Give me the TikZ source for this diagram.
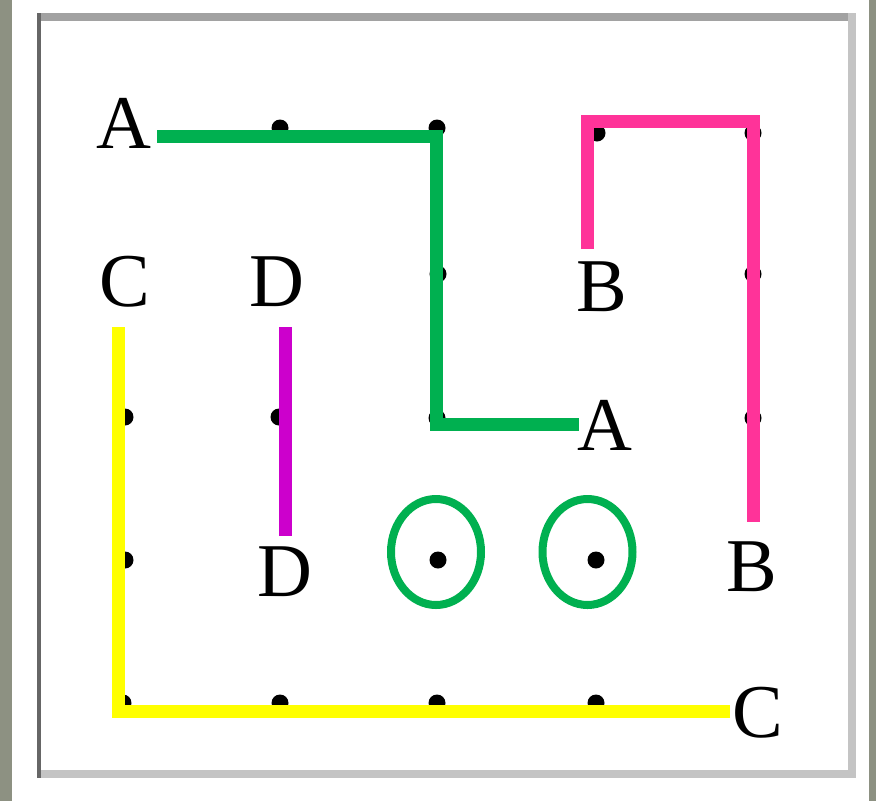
\documentclass[tikz,border=0pt]{standalone}
\usepackage{fontspec}
\setmainfont{Liberation Serif}
\definecolor{bggray}{HTML}{8D9182}
\definecolor{frametop}{HTML}{A2A2A2}
\definecolor{frameleft}{HTML}{666666}
\definecolor{frameright}{HTML}{C4C4C4}
\definecolor{pathgreen}{HTML}{00B050}
\definecolor{pathpink}{HTML}{FF3399}
\definecolor{pathyellow}{HTML}{FFFF00}
\definecolor{pathmagenta}{HTML}{CC00CC}
\tikzset{
  gridpt/.style={circle,fill=black,inner sep=0pt,minimum size=17pt},
  letter/.style={anchor=base,inner sep=0pt,font=\fontsize{76}{76}\selectfont},
  route/.style={line width=13pt,line join=miter,line cap=butt},
  ring/.style={draw=pathgreen,line width=8pt,ellipse,minimum width=90pt,minimum height=106pt,inner sep=0pt}
}
\usetikzlibrary{shapes.geometric}
\begin{document}
\begin{tikzpicture}[x=1pt,y=-1pt]
\useasboundingbox (0,0) rectangle (876,801);
\fill[white] (0,0) rectangle (876,801);
\fill[bggray] (0,0) rectangle (12,801);
\fill[bggray] (869,0) rectangle (876,801);
% frame
\fill[frametop] (37,13) rectangle (856,21);
\fill[frameright] (848,13) rectangle (856,778);
\fill[frameright] (37,770) rectangle (856,778);
\fill[frameleft] (37,13) rectangle (41,778);
% grid dots
\node[gridpt] (d01) at (280,128) {};
\node[gridpt] (d02) at (437,128) {};
\node[gridpt] (d03) at (597,133) {};
\node[gridpt] (d04) at (753,133) {};
\node[gridpt] (d12) at (438,274) {};
\node[gridpt] (d14) at (753,274) {};
\node[gridpt] (d20) at (125,417) {};
\node[gridpt] (d21) at (279,417) {};
\node[gridpt] (d22) at (437,418) {};
\node[gridpt] (d24) at (753,418) {};
\node[gridpt] (d30) at (125,560) {};
\node[gridpt] (d32) at (438,560) {};
\node[gridpt] (d33) at (596,560) {};
\node[gridpt] (d40) at (123,703) {};
\node[gridpt] (d41) at (280,703) {};
\node[gridpt] (d42) at (437,703) {};
\node[gridpt] (d43) at (596,703) {};
% labels
\node[letter] (a1) at (124,148) {A};
\node[letter] (c1) at (125,306) {C};
\node[letter] (dd1) at (277,306) {D};
\node[letter] (b1) at (602,311) {B};
\node[letter] (a2) at (605,450) {A};
\node[letter] (dd2) at (285,596) {D};
\node[letter] (b2) at (752,591) {B};
\node[letter] (c2) at (758,737) {C};
% route coordinates
\coordinate (gA) at (157,136.5);
\coordinate (gB) at (436,136.5);
\coordinate (gC) at (436,424.5);
\coordinate (gD) at (579,424.5);
\coordinate (pA) at (587.5,249);
\coordinate (pB) at (587.5,121.5);
\coordinate (pC) at (753.5,121.5);
\coordinate (pD) at (753.5,522);
\coordinate (yA) at (118.5,327);
\coordinate (yB) at (118.5,711.5);
\coordinate (yC) at (730,711.5);
\coordinate (mA) at (285,327);
\coordinate (mB) at (285,536);
% routes
\draw[route,pathgreen] (gA) -- (gB) -- (gC) -- (gD);
\draw[route,pathpink] (pA) -- (pB) -- (pC) -- (pD);
\draw[route,pathyellow] (yA) -- (yB) -- (yC);
\draw[route,pathmagenta] (mA) -- (mB);
% rings
\node[ring] (r1) at (436,552) {};
\node[ring] (r2) at (587.5,552) {};
\end{tikzpicture}
\end{document}
